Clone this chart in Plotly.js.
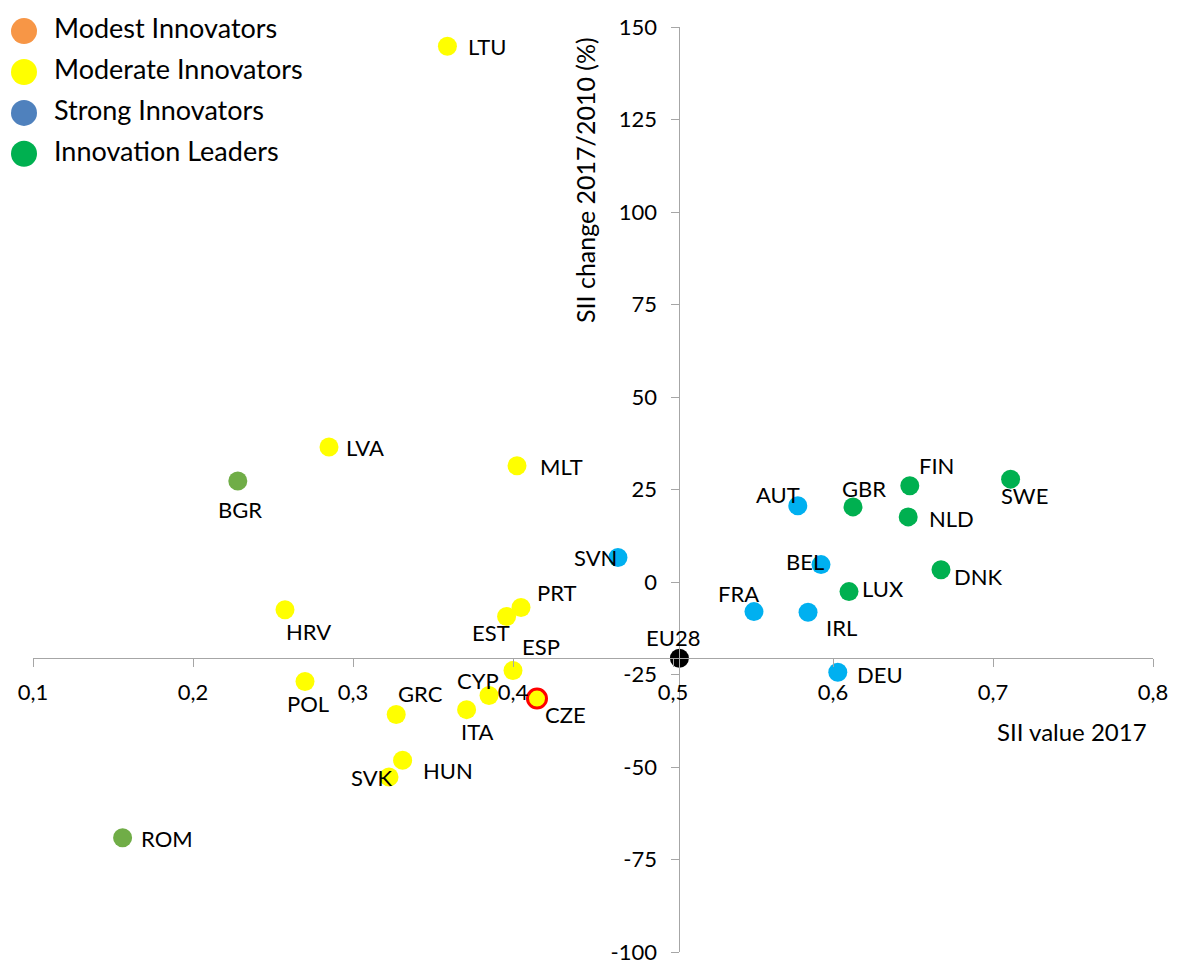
<!DOCTYPE html>
<html><head><meta charset="utf-8">
<script src="https://cdn.plot.ly/plotly-3.0.1.min.js"></script>
<style>html,body{margin:0;padding:0;background:#fff}#chart{width:1178px;height:965px}</style>
</head><body><div id="chart"></div>
<script>
// ---- data ----
const countries = ['LTU','LVA','BGR','MLT','SVN','PRT','EST','HRV','ESP','POL','CYP','CZE','GRC','ITA','HUN','SVK','ROM','EU28','AUT','GBR','FIN','SWE','NLD','BEL','DNK','LUX','FRA','IRL','DEU'];
const siiValue2017 = [0.359,0.285,0.228,0.4025,0.4656,0.405,0.396,0.2575,0.400,0.270,0.385,0.415,0.327,0.371,0.331,0.3225,0.156,0.504,0.578,0.6125,0.648,0.711,0.647,0.5925,0.6675,0.610,0.5506,0.5844,0.603];
const siiChange = [144.8,36.5,27.3,31.4,6.6,-6.9,-9.3,-7.5,-23.9,-26.9,-30.7,-31.5,-35.8,-34.5,-48.2,-52.7,-69.1,-20.6,20.6,20.3,26.0,27.8,17.6,4.7,3.3,-2.6,-8.0,-8.2,-24.4];
const groups = ['Moderate','Moderate','Modest','Moderate','Strong','Moderate','Moderate','Moderate','Moderate','Moderate','Moderate','Moderate','Moderate','Moderate','Moderate','Moderate','Modest','EU','Strong','Leader','Leader','Leader','Leader','Strong','Leader','Leader','Strong','Strong','Strong'];
const highlighted = ['CZE'];
const legendNames = ['Modest Innovators','Moderate Innovators','Strong Innovators','Innovation Leaders'];
const xTickVals = [0.1,0.2,0.3,0.4,0.5,0.6,0.7,0.8];
const xTickText = ['0,1','0,2','0,3','0,4','0,5','0,6','0,7','0,8'];
const yTickVals = [-100,-75,-50,-25,0,25,50,75,100,125,150];
const xTitle = 'SII value 2017';
const yTitle = 'SII change 2017/2010 (%)';

// ---- styles ----
const pointColors = {Modest:'#70AD47', Moderate:'#FFFF00', Strong:'#00B0F0', Leader:'#00B050', EU:'#000000'};
const legendColors = ['#F79646','#FFFF00','#4F81BD','#00B050'];
// label offsets in px (center of label relative to point)
const labelDx = [40,36,2,44,-22,35,-16,23,28,3,-11,28,24,11,45,-17,44,-6,-20,11,27,14,43,-16,37,34,-15,33,42];
const labelDy = [0,1,29,1,0,-15,16,22,-24,22,-15,16,-21,22,10,1,1,-21,-11,-18,-20,16,2,-3,7,-3,-18,15,2];

const FONT = 'Lato, "Open Sans", sans-serif';
const W = 1178, H = 965;
const mL = 0, mR = 25, mT = 27, mB = 13;
const plotW = W - mL - mR;
const xDomain = [33 / plotW, 1];
const xRange = [0.1, 0.8], yRange = [-100, 150];
const euIdx = countries.indexOf('EU28');
const xAxisPos = (siiChange[euIdx] - yRange[0]) / (yRange[1] - yRange[0]);
const yAxisFrac = (siiValue2017[euIdx] - xRange[0]) / (xRange[1] - xRange[0]);
const yAxisPos = xDomain[0] + yAxisFrac * (xDomain[1] - xDomain[0]);

const traces = [];
traces.push({
  type:'scatter', mode:'markers', x: siiValue2017, y: siiChange,
  marker:{size:19, color: groups.map(g => pointColors[g]),
    line:{color: countries.map(c => highlighted.includes(c) ? '#FF0000' : 'rgba(0,0,0,0)'),
          width: countries.map(c => highlighted.includes(c) ? 3 : 0)}},
  showlegend:false, hoverinfo:'text', text: countries, cliponaxis:false
});
// custom legend (hidden axes in the top-left corner)
traces.push({
  type:'scatter', mode:'markers', xaxis:'x2', yaxis:'y2',
  x: legendNames.map(() => 24), y: legendNames.map((_, i) => i),
  marker:{size:26, color: legendColors}, showlegend:false, cliponaxis:false, hoverinfo:'skip'
});
traces.push({
  type:'scatter', mode:'text', xaxis:'x2', yaxis:'y2',
  x: legendNames.map(() => 54), y: legendNames.map((_, i) => i),
  text: legendNames, textposition:'middle right',
  textfont:{family:FONT, size:27, color:'#000'}, showlegend:false, cliponaxis:false, hoverinfo:'skip'
});

const annotations = countries.map((c, i) => ({
  x: siiValue2017[i], y: siiChange[i], xref:'x', yref:'y', text: c, showarrow:false,
  xanchor:'center', yanchor:'middle', xshift: labelDx[i], yshift: -labelDy[i],
  font:{family:FONT, size:22, color:'#000'}
}));
annotations.push({
  xref:'paper', yref:'paper', x: yAxisPos, y: 0.835, xshift:-95, text: yTitle, textangle:-90,
  showarrow:false, xanchor:'center', yanchor:'middle', font:{family:FONT, size:25, color:'#000'}
});
annotations.push({
  xref:'paper', yref:'paper', x: 1072 / plotW, y: xAxisPos, yshift:-73, text: xTitle,
  showarrow:false, xanchor:'center', yanchor:'middle', font:{family:FONT, size:24, color:'#000'}
});

const axisCommon = {showgrid:false, zeroline:false, showline:true, linecolor:'#A6A6A6', linewidth:1,
  ticks:'outside', ticklen:8, tickcolor:'#A6A6A6', tickwidth:1, ticklabeloverflow:'allow',
  tickfont:{family:FONT, size:22, color:'#000'}};

const layout = {
  width:W, height:H, paper_bgcolor:'#fff', plot_bgcolor:'#fff',
  margin:{l:mL, r:mR, t:mT, b:mB},
  showlegend:false,
  xaxis: Object.assign({}, axisCommon, {domain:xDomain, range:xRange, tickmode:'array',
    tickvals:xTickVals, ticktext:xTickText, anchor:'free', position:xAxisPos, ticklabelstandoff:6}),
  yaxis: Object.assign({}, axisCommon, {range:yRange, tickmode:'array', tickvals:yTickVals,
    ticktext:yTickVals.map(v => String(v)), anchor:'free', position:yAxisPos, ticklabelstandoff:10}),
  xaxis2:{domain:[0,0.3], range:[0, 0.3 * plotW], visible:false, anchor:'y2', fixedrange:true},
  yaxis2:{domain:[1-0.1636,1], range:[3.6,-0.1], visible:false, anchor:'x2', fixedrange:true},
  annotations: annotations,
  font:{family:FONT}
};

Plotly.newPlot('chart', traces, layout, {displayModeBar:false, staticPlot:true});
</script>
</body></html>
